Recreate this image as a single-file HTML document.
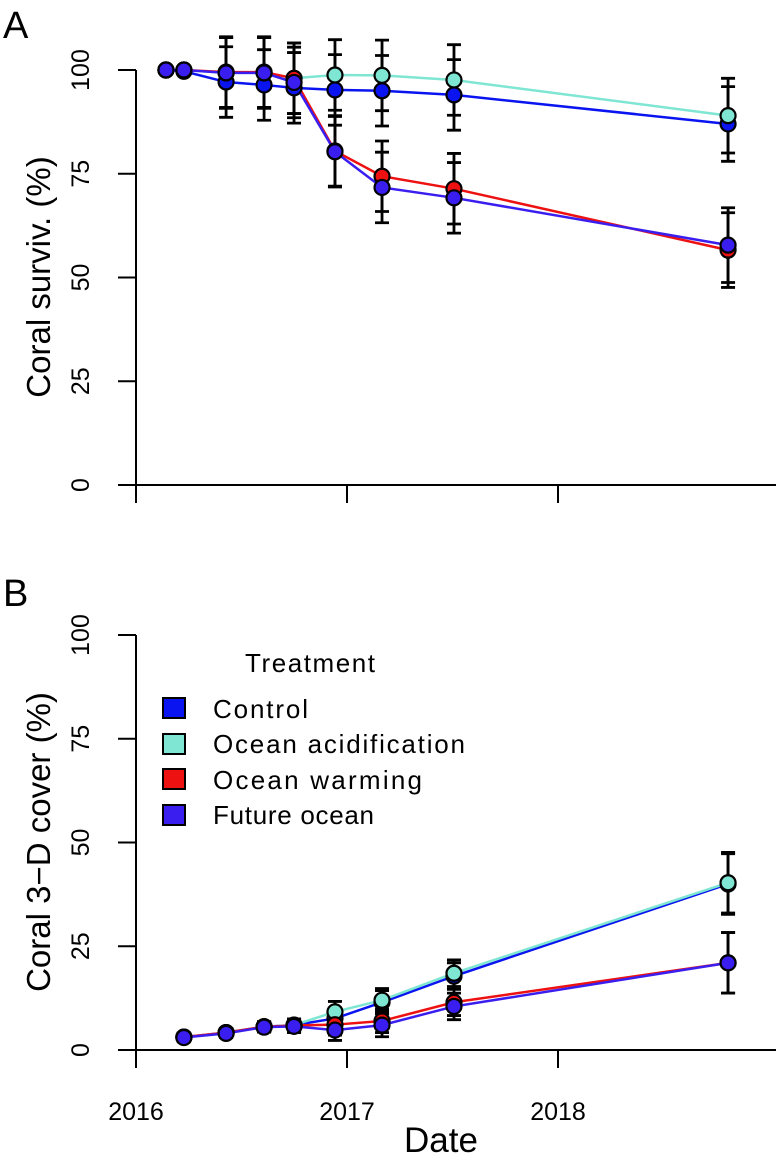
<!DOCTYPE html>
<html><head><meta charset="utf-8"><style>
body{margin:0;background:#fff}
svg{display:block;font-family:"Liberation Sans",Arial,sans-serif}
</style></head><body>
<svg id="c" width="776" height="1172" viewBox="0 0 776 1172">
<text x="3" y="38" font-size="38">A</text>
<text x="3" y="606" font-size="38">B</text>
<text transform="translate(50,277) rotate(-90)" text-anchor="middle" font-size="33">Coral surviv. (%)</text>
<text transform="translate(50,842) rotate(-90)" text-anchor="middle" font-size="33">Coral 3−D cover (%)</text>
<text x="441" y="1152" text-anchor="middle" font-size="35">Date</text>
<g id="gA"></g>
<g id="gB"></g>
<g>
<text x="245" y="672" font-size="26" textLength="130">Treatment</text>
<rect x="163" y="698" width="22" height="20" fill="#0a14f0" stroke="#000" stroke-width="2"/>
<text x="213" y="718" font-size="26" textLength="95">Control</text>
<rect x="163" y="734" width="22" height="20" fill="#7ee6d2" stroke="#000" stroke-width="2"/>
<text x="213" y="753" font-size="26" textLength="252">Ocean acidification</text>
<rect x="163" y="769" width="22" height="20" fill="#ee1111" stroke="#000" stroke-width="2"/>
<text x="213" y="789" font-size="26" textLength="209">Ocean warming</text>
<rect x="163" y="805" width="22" height="20" fill="#3a1ef0" stroke="#000" stroke-width="2"/>
<text x="213" y="824" font-size="26" textLength="161">Future ocean</text>
</g>
</svg>
<script>
const datesA = [0.142, 0.227, 0.427, 0.607, 0.749, 0.943, 1.166, 1.507, 2.806];
const controlA = [100, 99.7, 97.1, 96.4, 95.7, 95.2, 95, 94, 87];
const oaA = [100, 100, 99.3, 99.3, 98, 98.8, 98.7, 97.6, 89];
const owA = [100, 100, 99.5, 99.5, 98, 80.5, 74.4, 71.4, 56.6];
const foA = [100, 100, 99.3, 99.3, 97, 80.3, 71.7, 69.2, 57.8];
const errA = [0, 0, 8.5, 8.5, 8.5, 8.5, 8.5, 8.5, 9];
const datesB = [0.227, 0.427, 0.607, 0.749, 0.943, 1.166, 1.507, 2.806];
const controlB = [3.1, 4.2, 5.6, 6, 7.6, 11.5, 17.8, 40];
const oaB = [3.1, 4.2, 5.6, 6, 9.2, 12, 18.5, 40.3];
const owB = [3.1, 4.2, 5.6, 5.9, 6.1, 7, 11.5, 21];
const foB = [3, 4, 5.5, 5.7, 4.8, 6, 10.5, 21];
const errB = [1, 1, 1.2, 1.5, 2.5, 2.8, 3.2, 7.3];
const yTicks = [0, 25, 50, 75, 100];
const xTicks = ["2016", "2017", "2018"];
const NS = "http://www.w3.org/2000/svg";
const colors = ["#0a14f0", "#7ee6d2", "#ee1111", "#3a1ef0"];
const names = ["control", "ocean-acidification", "ocean-warming", "future-ocean"];
const xs = d => 136 + d * 211;
function mk(g, tag, at) { const e = document.createElementNS(NS, tag); for (const k in at) e.setAttribute(k, at[k]); g.appendChild(e); return e; }
function panel(gid, y0, dates, series, err, pfx) {
  const g = document.getElementById(gid);
  const ys = v => y0 - v * 4.15;
  let l = mk(g, "line", {x1: 136, y1: ys(100), x2: 136, y2: y0, stroke: "#000", "stroke-width": 2});
  
  
  l = mk(g, "line", {x1: 118, y1: y0, x2: 776, y2: y0, stroke: "#000", "stroke-width": 2});
  
  
  yTicks.forEach(t => {
    const tk = mk(g, "line", {x1: 118, y1: ys(t), x2: 136, y2: ys(t), stroke: "#000", "stroke-width": 2});
    
    
    const tx = mk(g, "text", {transform: `translate(89,${ys(t)}) rotate(-90)`, "text-anchor": "middle", "font-size": 25});
    tx.textContent = t;
    
    
  });
  xTicks.forEach((t, i) => {
    const tk = mk(g, "line", {x1: xs(i), y1: y0, x2: xs(i), y2: y0 + 18, stroke: "#000", "stroke-width": 2});
    
    
    if (pfx === "panel-b") {
      const tx = mk(g, "text", {x: xs(i), y: 1120, "text-anchor": "middle", "font-size": 25});
      tx.textContent = t;
      
      
    }
  });
  series.forEach((s, k) => {
    const p = mk(g, "polyline", {points: s.map((v, i) => xs(dates[i]) + "," + ys(v)).join(" "), fill: "none", stroke: colors[k], "stroke-width": 2.5});
    
    
  });
  series.forEach((s, k) => s.forEach((v, i) => {
    if (err[i] <= 0) return;
    const x = xs(dates[i]);
    const eb = mk(g, "path", {d: `M${x},${ys(v - err[i])}V${ys(v + err[i])}M${x - 7},${ys(v - err[i])}h14M${x - 7},${ys(v + err[i])}h14`, stroke: "#000", "stroke-width": 2.8, fill: "none"});
    
    
  }));
  series.forEach((s, k) => s.forEach((v, i) => {
    const c = mk(g, "circle", {cx: xs(dates[i]), cy: ys(v), r: 7.5, fill: colors[k], stroke: "#000", "stroke-width": 2.2});
    
    
  }));
}
panel("gA", 485, datesA, [controlA, oaA, owA, foA], errA, "panel-a");
panel("gB", 1050, datesB, [controlB, oaB, owB, foB], errB, "panel-b");
</script>
</body></html>
